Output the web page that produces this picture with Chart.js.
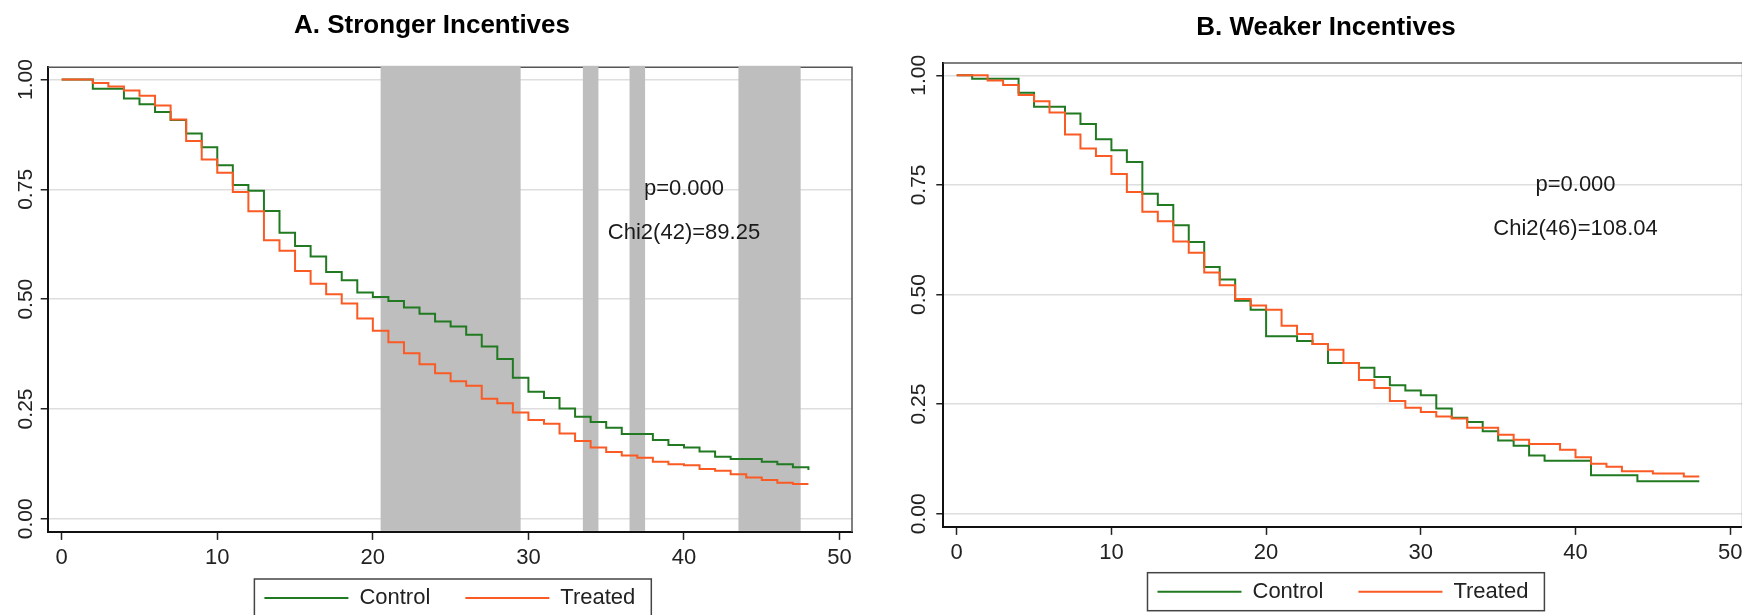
<!DOCTYPE html>
<html>
<head>
<meta charset="utf-8">
<title>Survival by incentive strength</title>
<script src="https://cdn.jsdelivr.net/npm/chart.js@4.4.1/dist/chart.umd.min.js"></script>
<style>
  html, body { margin: 0; padding: 0; background: #fff; overflow: hidden; width: 1742px; height: 615px; }
  .panel { position: absolute; top: 0; }
  #panelA { left: 0; }
  #panelB { left: 870px; }
</style>
</head>
<body>
<div class="panel" id="panelA"><canvas id="chartA" width="870" height="615"></canvas></div>
<div class="panel" id="panelB"><canvas id="chartB" width="890" height="615"></canvas></div>

<script>
// Months since start
const months = [0, 1, 2, 3, 4, 5, 6, 7, 8, 9, 10, 11, 12, 13, 14, 15, 16, 17, 18, 19, 20,
  21, 22, 23, 24, 25, 26, 27, 28, 29, 30, 31, 32, 33, 34, 35, 36, 37, 38, 39, 40,
  41, 42, 43, 44, 45, 46, 47, 48];

// A. Stronger incentives - share surviving
const controlA = [1.0, 1.0, 0.979, 0.979, 0.957, 0.944, 0.926, 0.908, 0.877, 0.846,
  0.805, 0.760, 0.747, 0.701, 0.651, 0.621, 0.597, 0.562, 0.543, 0.515,
  0.505, 0.496, 0.481, 0.467, 0.449, 0.438, 0.419, 0.392, 0.364, 0.321,
  0.289, 0.275, 0.251, 0.232, 0.220, 0.207, 0.193, 0.193, 0.179, 0.168,
  0.162, 0.153, 0.141, 0.136, 0.136, 0.130, 0.124, 0.117, 0.111];
const treatedA = [1.0, 1.0, 0.992, 0.984, 0.975, 0.963, 0.941, 0.909, 0.860, 0.818,
  0.788, 0.744, 0.700, 0.634, 0.610, 0.564, 0.535, 0.511, 0.490, 0.456,
  0.428, 0.402, 0.377, 0.352, 0.331, 0.313, 0.303, 0.273, 0.263, 0.242,
  0.225, 0.216, 0.194, 0.177, 0.162, 0.152, 0.144, 0.139, 0.130, 0.124,
  0.122, 0.113, 0.109, 0.101, 0.094, 0.088, 0.082, 0.079, 0.079];

// B. Weaker incentives - share surviving
const controlB = [1.0, 0.992, 0.992, 0.992, 0.960, 0.928, 0.928, 0.913, 0.889, 0.854,
  0.829, 0.802, 0.730, 0.704, 0.658, 0.620, 0.563, 0.534, 0.486, 0.465,
  0.405, 0.405, 0.394, 0.387, 0.344, 0.344, 0.333, 0.312, 0.293, 0.281,
  0.270, 0.240, 0.219, 0.209, 0.188, 0.167, 0.155, 0.133, 0.121, 0.121,
  0.121, 0.088, 0.088, 0.088, 0.074, 0.074, 0.074, 0.074, 0.074];
const treatedB = [1.0, 1.0, 0.988, 0.978, 0.955, 0.941, 0.915, 0.865, 0.833, 0.816,
  0.775, 0.734, 0.689, 0.667, 0.621, 0.595, 0.550, 0.521, 0.490, 0.475,
  0.465, 0.429, 0.410, 0.387, 0.374, 0.344, 0.305, 0.287, 0.257, 0.242,
  0.232, 0.222, 0.217, 0.196, 0.196, 0.180, 0.169, 0.159, 0.159, 0.146,
  0.129, 0.114, 0.107, 0.097, 0.097, 0.092, 0.092, 0.085, 0.085];

// Shaded month ranges in panel A
const shadedA = [[20.5, 29.5], [33.5, 34.5], [36.5, 37.5], [43.5, 47.5]];

// Axis ticks
const xTicks = [0, 10, 20, 30, 40, 50];
const yTicks = [0, 0.25, 0.5, 0.75, 1];

// Log-rank test results
const statsA = ['p=0.000', 'Chi2(42)=89.25'];
const statsB = ['p=0.000', 'Chi2(46)=108.04'];

const FONT = '"Liberation Sans", Arial, Helvetica, sans-serif';
const GREEN = '#217a21';
const ORANGE = '#fa5a23';

Chart.defaults.font.family = FONT;
Chart.defaults.color = '#222';

/**
 * Frame, shaded bands, test statistics and legend box
 */
const panelPlugin = {
  id: 'panel',
  afterLayout(chart, args, opts) {
    // pull the legend up closer to the axis labels
    const legend = chart.legend;
    legend.top -= opts.legendLift;
    legend.height = legend.bottom - legend.top;
  },
  beforeDatasetsDraw(chart, args, opts) {
    const { ctx, chartArea: a, scales: { x } } = chart;
    ctx.save();
    // top and right edge of the plot region
    ctx.strokeStyle = '#555';
    ctx.lineWidth = 1.5;
    ctx.beginPath();
    ctx.moveTo(a.left, a.top);
    ctx.lineTo(a.right, a.top);
    ctx.lineTo(a.right, a.bottom);
    ctx.stroke();
    // grey bands
    ctx.fillStyle = '#bebebe';
    (opts.bands || []).forEach(([from, to]) => {
      const x0 = x.getPixelForValue(from);
      const x1 = x.getPixelForValue(to);
      ctx.fillRect(x0, a.top - 1.5, x1 - x0, a.bottom - a.top + 0.5);
    });
    ctx.restore();
  },
  afterDatasetsDraw(chart, args, opts) {
    const { ctx, scales: { x, y } } = chart;
    ctx.save();
    ctx.font = '22px ' + FONT;
    ctx.fillStyle = '#1a1a1a';
    ctx.textAlign = 'center';
    ctx.textBaseline = 'middle';
    opts.stats.forEach((text, i) => {
      ctx.fillText(text, x.getPixelForValue(opts.statsAt[0]), y.getPixelForValue(opts.statsAt[i + 1]));
    });
    ctx.restore();
  },
  afterDraw(chart) {
    const boxes = chart.legend.legendHitBoxes;
    if (!boxes || !boxes.length) return;
    const first = boxes[0];
    const last = boxes[boxes.length - 1];
    const cy = first.top + first.height / 2;
    const { ctx } = chart;
    ctx.save();
    ctx.strokeStyle = '#444';
    ctx.lineWidth = 1.5;
    ctx.strokeRect(first.left - 10, cy - 19, last.left + last.width - first.left + 26, 38);
    ctx.restore();
  }
};

function makePanel(canvasId, title, control, treated, cfg) {
  return new Chart(document.getElementById(canvasId), {
    type: 'line',
    data: {
      datasets: [
        {
          label: 'Control',
          data: months.map((m, i) => ({ x: m, y: control[i] })),
          borderColor: GREEN,
          backgroundColor: GREEN,
          borderWidth: 2,
          pointRadius: 0,
          stepped: true,
          fill: false,
          order: 1
        },
        {
          label: 'Treated',
          data: months.map((m, i) => ({ x: m, y: treated[i] })),
          borderColor: ORANGE,
          backgroundColor: ORANGE,
          borderWidth: 2,
          pointRadius: 0,
          stepped: true,
          fill: false,
          order: 0
        }
      ]
    },
    options: {
      responsive: false,
      animation: false,
      events: [],
      layout: { padding: cfg.padding },
      scales: {
        x: {
          type: 'linear',
          min: cfg.xMin,
          max: 50.8,
          afterBuildTicks: axis => { axis.ticks = xTicks.map(v => ({ value: v })); },
          grid: { drawOnChartArea: false, tickLength: 8, tickWidth: 1.5, tickColor: '#222' },
          border: { color: '#111', width: 2 },
          ticks: { font: { size: 22 }, color: '#222', padding: 4.5, maxRotation: 0 }
        },
        y: {
          type: 'linear',
          min: -0.03,
          max: 1.028,
          afterBuildTicks: axis => { axis.ticks = yTicks.map(v => ({ value: v })); },
          afterFit: scale => { scale.width = cfg.yAxisWidth; },
          grid: { color: '#dedede', lineWidth: 1.5, tickLength: 7, tickWidth: 1.5, tickColor: '#222' },
          border: { color: '#111', width: 2 },
          ticks: {
            font: { size: 21 },
            color: '#222',
            minRotation: 90,
            maxRotation: 90,
            crossAlign: 'center',
            padding: cfg.yLabelPad,
            callback: v => v.toFixed(2)
          }
        }
      },
      plugins: {
        title: {
          display: true,
          text: title,
          color: '#000',
          font: { size: 26, weight: 'bold' },
          padding: cfg.titlePad
        },
        legend: {
          position: 'bottom',
          fullSize: false,
          maxHeight: cfg.legendHeight,
          labels: {
            usePointStyle: true,
            pointStyle: 'line',
            pointStyleWidth: 84,
            boxWidth: 84,
            padding: 35,
            color: '#222',
            font: { size: 22 },
            sort: (a, b) => a.datasetIndex - b.datasetIndex
          }
        },
        tooltip: { enabled: false },
        panel: {
          bands: cfg.bands,
          stats: cfg.stats,
          statsAt: [40, 0.75, 0.65],
          legendLift: cfg.legendLift
        }
      }
    },
    plugins: [panelPlugin]
  });
}

makePanel('chartA', 'A. Stronger Incentives', controlA, treatedA, {
  padding: { left: 12, right: 18, top: 0, bottom: 0 },
  titlePad: { top: 10.4, bottom: 25.7 },
  xMin: -0.9,
  yAxisWidth: 35.7,
  yLabelPad: -5.7,
  legendHeight: 39.7,
  legendLift: 23.3,
  bands: shadedA,
  stats: statsA
});

makePanel('chartB', 'B. Weaker Incentives', controlB, treatedB, {
  padding: { left: 39.4, right: 17.4, top: 0, bottom: 0 },
  titlePad: { top: 11.9, bottom: 19.9 },
  xMin: -0.866,
  yAxisWidth: 33.9,
  yLabelPad: -3.8,
  legendHeight: 44.7,
  legendLift: 24.6,
  bands: [],
  stats: statsB
});
</script>
</body>
</html>
